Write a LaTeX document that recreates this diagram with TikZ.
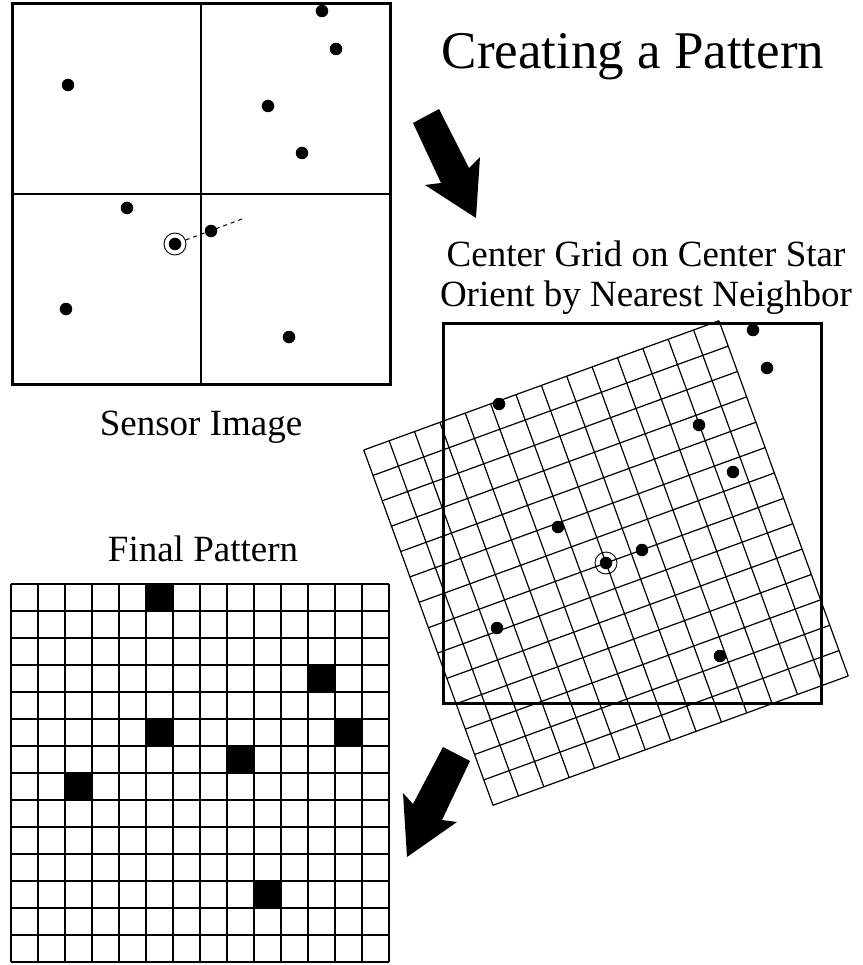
\documentclass[tikz,border=0pt]{standalone}
\usepackage{fontspec}
\setmainfont{Liberation Serif}
\begin{document}
\begin{tikzpicture}[x=1pt,y=-1pt,
  star/.style={circle,fill=black,inner sep=0pt,minimum size=12.5pt},
  ring/.style={circle,draw,line width=0.9pt,inner sep=0pt,minimum size=22pt},
  frame/.style={draw,line width=3pt},
  gridline/.style={line width=1.2pt},
  bigarrow/.style={fill=black},
  caption/.style={anchor=base,inner sep=0pt,font=\fontsize{37}{40}\selectfont}]
\useasboundingbox (0,0) rectangle (862,965);
% sensor image
\draw[gridline] (201,4) -- (201,384);
\draw[gridline] (12,194) -- (390,194);
\draw[frame] (12,4) rectangle (390,384);
\foreach \x/\y [count=\i] in {322/11,336/49,68/85,268/106,302/153,127/208,211/231,175/244,66/309,289/337}
  \node[star] (s\i) at (\x,\y) {};
\node[ring] (ctr) at (s8) {};
\coordinate (nnend) at (242,219);
\draw[dash pattern=on 4pt off 4pt,line width=1pt] (ctr) -- (nnend);
\node[caption] (sensorlbl) at (201,435) {Sensor Image};
% title and first arrow
\node[caption,font=\fontsize{53}{58}\selectfont] (title) at (633,69) {Creating a Pattern};
\fill[bigarrow] (413,123) -- (439,109) -- (469,168) -- (480,157) -- (476,218) -- (425,185) -- (441,183) -- cycle;
\node[caption] (gridlbl) at (646,267) {Center Grid on Center Star};
\node[caption] (orientlbl) at (646,306) {Orient by Nearest Neighbor};
% rotated grid on the center star
\begin{scope}[shift={(606,563)},rotate=20]
\foreach \i in {0,...,14} {
  \draw[gridline] (-189+27*\i,-189) -- (-189+27*\i,189);
  \draw[gridline] (-189,-189+27*\i) -- (189,-189+27*\i);
}
\end{scope}
\draw[frame] (443,323) rectangle (821,703);
\foreach \x/\y [count=\i] in {322/11,336/49,68/85,268/106,302/153,127/208,211/231,175/244,66/309,289/337}
  \node[star] (r\i) at (\x+431,\y+319) {};
\node[ring] (rctr) at (r8) {};
% second arrow
\fill[bigarrow] (443,747) -- (470,761) -- (442,820) -- (457,822) -- (407,857) -- (403,793) -- (413,804) -- cycle;
% final pattern
\node[caption] (finallbl) at (203,561) {Final Pattern};
\foreach \c/\r in {5/0,11/3,5/5,12/5,8/6,2/7,9/11}
  \fill (11+27*\c,584+27*\r) rectangle +(27,27);
\foreach \i in {0,...,14} {
  \draw[line width=1.4pt] (11+27*\i,584) -- (11+27*\i,962);
  \draw[line width=1.4pt] (11,584+27*\i) -- (389,584+27*\i);
}
\end{tikzpicture}
\end{document}
